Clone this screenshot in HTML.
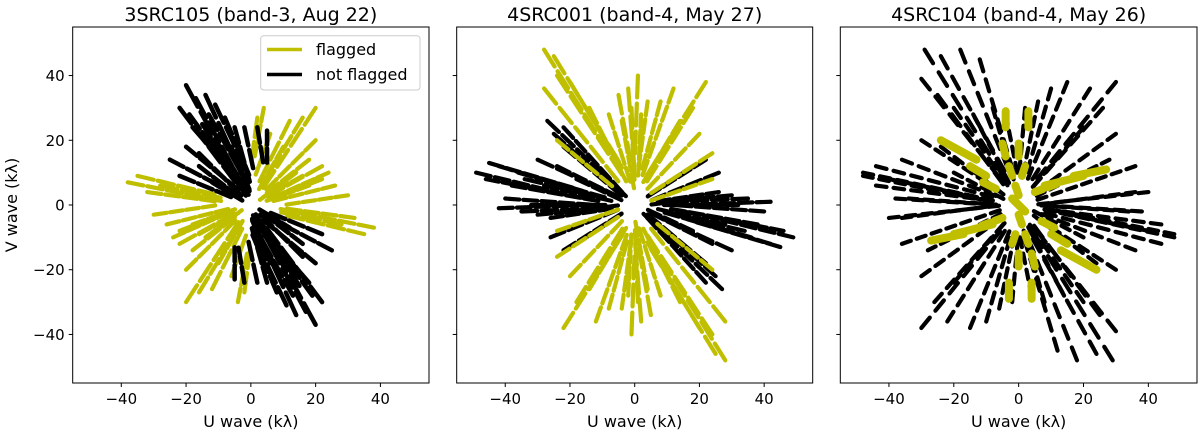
<!DOCTYPE html>
<html><head><meta charset="utf-8"><style>
html,body{margin:0;padding:0;background:#fff;}
svg{display:block;font-family:"DejaVu Sans","Liberation Sans",sans-serif;}
</style></head><body>
<svg id="fig" width="1200" height="433" viewBox="0 0 1200 433" xmlns="http://www.w3.org/2000/svg"></svg>
<script>
// Panel titles
const titles = ["3SRC105 (band-3, Aug 22)", "4SRC001 (band-4, May 27)", "4SRC104 (band-4, May 26)"];
const xTicks = [-40, -20, 0, 20, 40];
const yTicks = [-40, -20, 0, 20, 40];
const tickLabels = ["\u221240", "\u221220", "0", "20", "40"];
// Tracks: [u1, v1, u2, v2, nDashes] (upper half; mirrored through origin)
const p1Black = [[-20,37,-2,4,4],[-17,33,-1,3,4],[-14,34,-2,8,3],[-22,30,-4,6,4],[-11,31,-1,10,3],[-8,27,0,8,3],[-5,24,0,6,3],[-2,24,1,10,2],[2,24,4,12,2],[5,23,5,12,2],[-25,14,-4,3,4],[-20,18,-3,4,4],[-18,24,-4,8,3],[-14,20,-2,4,3],[-10,16,-1,3,3],[-16,12,-3,2,3],[-6,18,-1,4,3],[-12,7,-2,1,3],[-12,20,-1,2,4],[-9,22,0,4,4],[-15,25,-2,5,4],[-7,14,0,2,2],[-4,16,0,3,2],[-19,28,-3,6,4],[-22,9,-5,2,3],[-13,28,-3,10,3],[-16,16,-2,2,3]];
const p1Yellow = [[20,30,3,4,4],[16,27,2,4,4],[12,26,2,6,3],[4,30,1,14,3],[2,27,0,12,2],[6,22,1,8,2],[20,20,4,4,4],[18,14,4,3,3],[24,10,6,2,4],[26,6,6,1,4],[30,3,10,0,4],[22,12,4,2,3],[38,-7,8,-1,5],[35,-9,10,-3,4],[32,-4,10,-1,4],[28,-6,8,-2,3],[14,10,2,1,3],[10,18,2,4,3],[22,8,4,1,4],[18,6,4,1,3],[16,9,3,2,3]];
const p2Black = [[-49,10,-20,3,5],[-45,13,-18,5,5],[-42,12,-15,4,5],[-38,6,-10,1,5],[-40,2,-12,0,5],[-35,-2,-10,-1,4],[-30,-3,-8,-1,4],[-34,8,-8,2,4],[-27,26,-4,4,5],[-25,22,-4,3,5],[-22,18,-3,2,4],[-24,12,-4,2,4],[-18,8,-3,1,3],[-30,14,-6,3,4],[-12,12,-2,2,3],[-20,-2,-4,0,3],[22,14,3,2,4],[26,10,4,1,4],[18,12,3,2,3],[-46,8,-15,2,6],[-36,10,-8,2,5],[-32,0,-8,0,5],[-28,6,-6,1,4],[-26,-4,-6,-1,4],[-42,-1,-14,0,5],[-22,24,-3,3,5]];
const p2Yellow = [[-28,48,-3,8,6],[-25,46,-4,12,5],[-28,36,-4,6,5],[-24,40,-3,8,5],[-20,38,-3,10,4],[-14,30,-2,6,4],[-8,28,-1,6,4],[-4,26,0,4,4],[2,28,1,8,4],[4,32,1,10,4],[8,32,2,10,4],[12,36,2,8,5],[22,38,3,8,5],[18,30,3,6,4],[14,26,2,6,4],[20,22,3,4,4],[24,16,4,3,4],[-24,20,-6,5,4],[24,8,4,1,4],[-2,36,0,10,3],[1,40,0,14,3],[-1,30,0,6,3],[-5,34,-1,12,3]];
const p3Black = [[-29,48,-3,6,6],[-24,46,-3,8,6],[-18,48,-2,8,6],[-12,45,-1,8,6],[-30,39,-4,6,6],[-25,34,-3,4,5],[-20,30,-2,4,5],[-14,28,-2,5,5],[-8,30,-1,6,5],[-4,28,0,8,4],[2,30,0,8,4],[6,32,1,8,5],[10,36,2,8,5],[15,38,2,6,6],[22,36,3,6,6],[30,38,4,6,6],[26,30,3,4,6],[20,24,3,4,5],[30,22,4,3,6],[28,14,4,2,6],[36,12,4,1,7],[40,4,4,0,7],[38,-2,6,0,6],[44,-6,6,-1,7],[48,-9,8,-1,8],[-48,10,-6,1,8],[-44,12,-6,2,7],[-40,8,-6,1,7],[-36,14,-5,2,6],[-34,2,-5,0,6],[-30,20,-4,3,6],[-24,18,-3,2,5],[-36,-4,-6,0,6],[-20,10,-3,1,4]];
const p3Yellow = [[-4,29,-4,24,1],[3,29,3,24,1],[-5,19,-4,15,1],[0,19,0,15,1],[-24,20,-13,14,1],[-15,12,-10,9,1],[-11,7,-7,5,1],[-3,12,-2,9,1],[2,12,1,9,1],[-1,6,0,3,1],[-2,2,2,-2,1],[5,4,13,7,2],[17,9,27,11,1],[8,6,20,9,1]];

const panels = [
  {x0:72.7, x1:429, black:p1Black, yellow:p1Yellow, bw:4.5, yw:4.2, frac:0.8, ylabels:true, legend:true, order:['yellow','black']},
  {x0:456.7, x1:812.7, black:p2Black, yellow:p2Yellow, bw:4.2, yw:4.2, frac:0.78, ylabels:false, legend:false, order:['black','yellow']},
  {x0:840.3, x1:1197, black:p3Black, yellow:p3Yellow, bw:4.2, yw:8, frac:0.6, ylabels:false, legend:false, order:['black','yellow']}
];
const Y0 = 27, Y1 = 383, LIM = 55;
const NS = "http://www.w3.org/2000/svg";
const svg = document.getElementById('fig');
function mk(tag, attrs, parent){const e=document.createElementNS(NS,tag);for(const k in attrs)e.setAttribute(k,attrs[k]);(parent||svg).appendChild(e);return e;}

panels.forEach((p, i) => {
  const sx = u => p.x0 + (u + LIM) / (2*LIM) * (p.x1 - p.x0);
  const sy = v => Y1 - (v + LIM) / (2*LIM) * (Y1 - Y0);
  const g = mk('g', {});
  
  
  const clipId = 'clip' + i;
  const cp = mk('clipPath', {id: clipId}, g);
  mk('rect', {x:p.x0, y:Y0, width:p.x1-p.x0, height:Y1-Y0}, cp);
  const marks = mk('g', {'clip-path':'url(#'+clipId+')'}, g);
  
  
  p.order.forEach(kind => {
    const data = kind === 'black' ? p.black : p.yellow;
    const col = kind === 'black' ? '#000' : '#bfbf00';
    const w = kind === 'black' ? p.bw : p.yw;
    data.forEach(tr => {
      [1, -1].forEach(s => {
        const [u1,v1,u2,v2,n] = tr;
        for (let k = 0; k < n; k++) {
          const t0 = k / n, t1 = n === 1 ? 1 : (k + p.frac) / n;
          const a = {x1: sx(s*(u1+(u2-u1)*t0)), y1: sy(s*(v1+(v2-v1)*t0)), x2: sx(s*(u1+(u2-u1)*t1)), y2: sy(s*(v1+(v2-v1)*t1))};
          const l = mk('line', {...a, stroke: col, 'stroke-width': w, 'stroke-linecap': 'round'}, marks);
          
          
        }
      });
    });
  });
  const frame = mk('rect', {x:p.x0, y:Y0, width:p.x1-p.x0, height:Y1-Y0, fill:'none', stroke:'#000', 'stroke-width':1}, g);
  
  
  xTicks.forEach((t, j) => {
    const x = sx(t);
    mk('line', {x1:x, x2:x, y1:Y1, y2:Y1+4, stroke:'#000', 'stroke-width':1}, g);
    const tx = mk('text', {x:x, y:Y1+21, 'font-size':15, 'text-anchor':'middle'}, g);
    tx.textContent = tickLabels[j];
    
    
  });
  yTicks.forEach((t, j) => {
    const y = sy(t);
    mk('line', {x1:p.x0-4, x2:p.x0, y1:y, y2:y, stroke:'#000', 'stroke-width':1}, g);
    if (p.ylabels) {
      const ty = mk('text', {x:p.x0-8, y:y+5.5, 'font-size':15, 'text-anchor':'end'}, g);
      ty.textContent = tickLabels[j];
      
      
    }
  });
  const tt = mk('text', {x:(p.x0+p.x1)/2, y:21, 'font-size':19, 'text-anchor':'middle'}, g);
  tt.textContent = titles[i];
  
  
  const xl = mk('text', {x:(p.x0+p.x1)/2, y:427, 'font-size':16, 'text-anchor':'middle'}, g);
  xl.textContent = 'U wave (k\u03bb)';
  
  
  if (p.ylabels) {
    const yl = mk('text', {x:0, y:0, 'font-size':16, 'text-anchor':'middle', transform:'translate(17,205) rotate(-90)'}, g);
    yl.textContent = 'V wave (k\u03bb)';
    
    
  }
  if (p.legend) {
    const lg = mk('g', {}, g);
    
    
    mk('rect', {x:260.7, y:35.7, width:159.3, height:54.3, rx:3, fill:'#fff', 'fill-opacity':0.85, stroke:'#ccc', 'stroke-width':1}, lg);
    mk('line', {x1:267, x2:302, y1:49.5, y2:49.5, stroke:'#bfbf00', 'stroke-width':3.5}, lg);
    mk('line', {x1:267, x2:302, y1:74.5, y2:74.5, stroke:'#000', 'stroke-width':3.5}, lg);
    const l1 = mk('text', {x:316, y:55, 'font-size':16}, lg);
    l1.textContent = 'flagged';
    
    
    const l2 = mk('text', {x:316, y:80, 'font-size':16}, lg);
    l2.textContent = 'not flagged';
    
    
  }
});
</script>
</body></html>
